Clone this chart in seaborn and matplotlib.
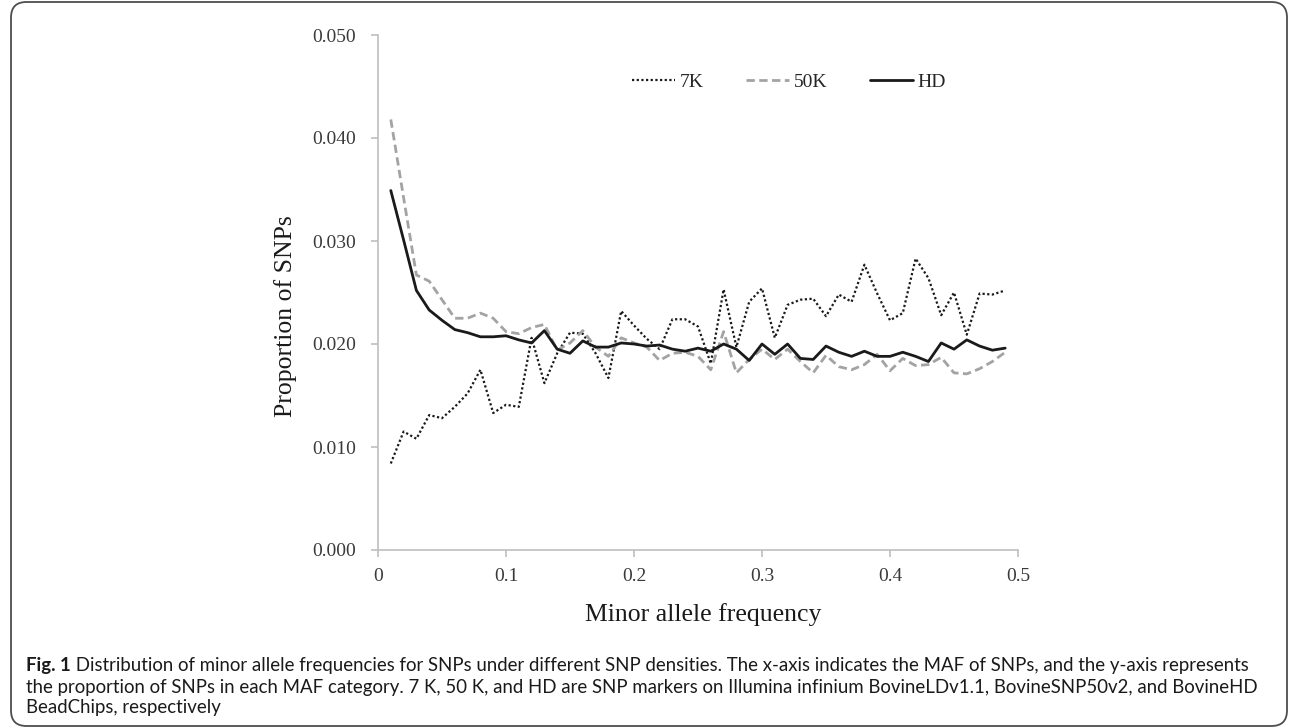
import numpy as np
import pandas as pd
import matplotlib
matplotlib.use("Agg")
import matplotlib.pyplot as plt
import seaborn as sns
from matplotlib.patches import FancyBboxPatch

# MAF categories and proportion of SNPs per chip
maf = [0.01, 0.02, 0.03, 0.04, 0.05, 0.06, 0.07, 0.08, 0.09, 0.10,
       0.11, 0.12, 0.13, 0.14, 0.15, 0.16, 0.17, 0.18, 0.19, 0.20,
       0.21, 0.22, 0.23, 0.24, 0.25, 0.26, 0.27, 0.28, 0.29, 0.30,
       0.31, 0.32, 0.33, 0.34, 0.35, 0.36, 0.37, 0.38, 0.39, 0.40,
       0.41, 0.42, 0.43, 0.44, 0.45, 0.46, 0.47, 0.48, 0.49]

snp_7k = [0.0084, 0.0115, 0.0108, 0.0131, 0.0128, 0.0139, 0.0152, 0.0175, 0.0133, 0.0141,
          0.0139, 0.0206, 0.0162, 0.0191, 0.0211, 0.0210, 0.0191, 0.0167, 0.0232, 0.0218,
          0.0205, 0.0195, 0.0224, 0.0224, 0.0217, 0.0181, 0.0253, 0.0197, 0.0241, 0.0254,
          0.0206, 0.0238, 0.0243, 0.0244, 0.0227, 0.0248, 0.0241, 0.0277, 0.0249, 0.0223,
          0.0230, 0.0283, 0.0264, 0.0228, 0.0250, 0.0209, 0.0249, 0.0248, 0.0252]

snp_50k = [0.0418, 0.0342, 0.0267, 0.0261, 0.0243, 0.0225, 0.0225, 0.0230, 0.0225, 0.0212,
           0.0210, 0.0216, 0.0219, 0.0194, 0.0201, 0.0213, 0.0197, 0.0188, 0.0206, 0.0201,
           0.0197, 0.0184, 0.0191, 0.0192, 0.0188, 0.0175, 0.0212, 0.0172, 0.0185, 0.0195,
           0.0185, 0.0195, 0.0183, 0.0172, 0.0189, 0.0178, 0.0175, 0.0180, 0.0190, 0.0174,
           0.0186, 0.0179, 0.0180, 0.0187, 0.0172, 0.0171, 0.0176, 0.0183, 0.0192]

snp_hd = [0.0349, 0.0301, 0.0252, 0.0233, 0.0223, 0.0214, 0.0211, 0.0207, 0.0207, 0.0208,
          0.0204, 0.0201, 0.0213, 0.0195, 0.0191, 0.0203, 0.0197, 0.0197, 0.0201, 0.0200,
          0.0198, 0.0199, 0.0195, 0.0193, 0.0196, 0.0193, 0.0200, 0.0195, 0.0184, 0.0200,
          0.0190, 0.0200, 0.0186, 0.0185, 0.0198, 0.0192, 0.0188, 0.0193, 0.0188, 0.0188,
          0.0192, 0.0188, 0.0183, 0.0201, 0.0195, 0.0204, 0.0198, 0.0194, 0.0196]

x_ticks = [0, 0.1, 0.2, 0.3, 0.4, 0.5]
x_ticklabels = ["0", "0.1", "0.2", "0.3", "0.4", "0.5"]
y_ticks = [0.0, 0.01, 0.02, 0.03, 0.04, 0.05]

caption_bold = "Fig. 1"
caption_lines = [
    " Distribution of minor allele frequencies for SNPs under different SNP densities. "
    "The x-axis indicates the MAF of SNPs, and the y-axis represents",
    "the proportion of SNPs in each MAF category. 7 K, 50 K, and HD are SNP markers on "
    "Illumina infinium BovineLDv1.1, BovineSNP50v2, and BovineHD",
    "BeadChips, respectively",
]

sns.set_style("ticks")
plt.rcParams["font.family"] = ["Liberation Serif", "DejaVu Serif"]

W, H = 1292, 727
fig = plt.figure(figsize=(W / 100, H / 100), dpi=100)
ax = fig.add_axes([378 / W, 1 - 550 / H, 640 / W, 515 / H])

df = pd.DataFrame({"maf": maf, "7K": snp_7k, "50K": snp_50k, "HD": snp_hd})

sns.lineplot(data=df, x="maf", y="7K", ax=ax, color="#1a1a1a", lw=1.6,
             linestyle=(0, (1, 1.1)), label="7K")
sns.lineplot(data=df, x="maf", y="50K", ax=ax, color="#a3a3a3", lw=2.0,
             linestyle=(0, (3, 1.6)), label="50K")
sns.lineplot(data=df, x="maf", y="HD", ax=ax, color="#1a1a1a", lw=2.0,
             label="HD")

ax.set_xlim(0, 0.5)
ax.set_ylim(0, 0.05)
ax.set_xticks(x_ticks)
ax.set_xticklabels(x_ticklabels)
ax.set_yticks(y_ticks)
ax.set_yticklabels([f"{v:.3f}" for v in y_ticks])
sns.despine(ax=ax)
for side in ("left", "bottom"):
    ax.spines[side].set_color("#bfbfbf")
    ax.spines[side].set_linewidth(1.2)
ax.tick_params(axis="both", colors="#bfbfbf", length=5, width=1.2,
               labelcolor="#3a3a3a", labelsize=14)
ax.tick_params(axis="y", pad=11)
ax.tick_params(axis="x", pad=8)

ax.set_xlabel("Minor allele frequency", fontsize=18.5, color="#1a1a1a")
ax.set_ylabel("Proportion of SNPs", fontsize=18.5, color="#1a1a1a")
ax.xaxis.set_label_coords(0.508, -0.103)
ax.yaxis.set_label_coords(-0.127, 0.454)

ax.legend(loc="center", bbox_to_anchor=((789 - 378) / 640, 1 - (82 - 35) / 515),
          ncol=3, frameon=False, fontsize=14, handlelength=2.2,
          handletextpad=0.25, columnspacing=2.2)

# caption below the chart, first line fitted to the frame width
cap_font = ["Lato", "DejaVu Sans"]
renderer = fig.canvas.get_renderer()
line_y = [1 - 665 / H, 1 - 687 / H, 1 - 707 / H]
cap_left, cap_right = 26, 1257


def draw_caption(fs):
    tb = fig.text(cap_left / W, line_y[0], caption_bold, fontsize=fs, fontweight="bold",
                  family=cap_font, color="#1a1a1a", va="center", ha="left")
    bb = tb.get_window_extent(renderer)
    t1 = fig.text(bb.x1 / W, line_y[0], caption_lines[0], fontsize=fs, family=cap_font,
                  color="#1a1a1a", va="center", ha="left")
    rest = [fig.text(cap_left / W, y, line, fontsize=fs, family=cap_font,
                     color="#1a1a1a", va="center", ha="left")
            for line, y in zip(caption_lines[1:], line_y[1:])]
    return [tb, t1] + rest


texts = draw_caption(12.5)
width = texts[1].get_window_extent(renderer).x1 - cap_left
for t in texts:
    t.remove()
draw_caption(12.5 * (cap_right - cap_left) / width)

# rounded frame around the figure
frame = FancyBboxPatch((11 / W, 1 / H), (1287 - 11) / W, (725 - 1) / H,
                       boxstyle="round,pad=0,rounding_size=0.012",
                       transform=fig.transFigure, fill=False,
                       edgecolor="#4d4d4d", lw=1.3, mutation_aspect=W / H)
fig.patches.append(frame)

fig.savefig("out.png", dpi=100)
